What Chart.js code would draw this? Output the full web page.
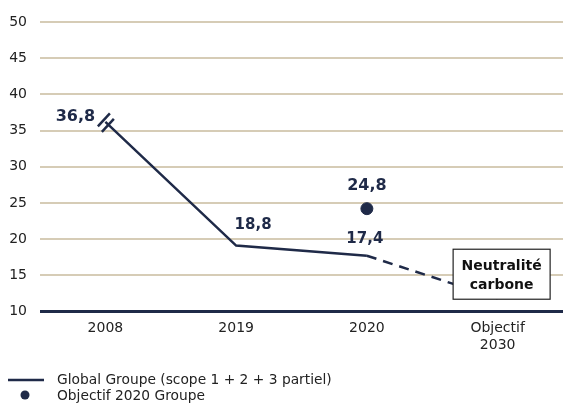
<!DOCTYPE html>
<html>
<head>
<meta charset="utf-8">
<script src="https://cdn.jsdelivr.net/npm/chart.js@4"></script>
<style>
html,body{margin:0;padding:0;background:#fff;}
#wrap{width:563px;height:408px;position:relative;}
</style>
</head>
<body>
<div id="wrap"><canvas id="c" width="563" height="408"></canvas></div>
<script>
// ---- data ----
const categories = ['2008', '2019', '2020', ['Objectif', '2030']];
const globalGroupe = [36.2, 19.1, 17.7, null];          // solid line (axis broken at 2008)
const globalProjection = [null, null, 17.7, 11.8];      // dashed projection to 2030
const objectif2020 = [null, null, 24.2, null];          // target point
const lineLabels = ['36,8', '18,8', '17,4', null];
const pointLabels = [null, null, '24,8', null];
const yTicks = [10, 15, 20, 25, 30, 35, 40, 45, 50];
const boxText = ['Neutralité', 'carbone'];
const boxValue = 15;
const legendItems = ['Global Groupe (scope 1 + 2 + 3 partiel)', 'Objectif 2020 Groupe'];

const NAVY = '#1f2a48';
const GRID = '#d6ccb6';
const FONT = "'DejaVu Sans', sans-serif";

const annotPlugin = {
  id: 'annot',
  afterDatasetsDraw(chart) {
    const ctx = chart.ctx;
    const xs = chart.scales.x, ys = chart.scales.y;
    ctx.save();
    // axis break marks ("//") straddling the first point
    const p0 = chart.getDatasetMeta(0).data[0];
    ctx.strokeStyle = NAVY; ctx.lineWidth = 2.5; ctx.lineCap = 'butt';
    const centers = [[-1.5, -2], [2.5, 3.5]];
    centers.forEach(([dx, dy]) => {
      const cx = p0.x + dx, cy = p0.y + dy;
      ctx.beginPath();
      ctx.moveTo(cx - 6, cy + 6.5);
      ctx.lineTo(cx + 6, cy - 6.5);
      ctx.stroke();
    });
    // line labels
    ctx.fillStyle = NAVY;
    ctx.textAlign = 'center'; ctx.textBaseline = 'middle';
    const offs = [[-30, -5], [17, -20], [-2, -17]];
    const meta0 = chart.getDatasetMeta(0);
    lineLabels.forEach((t, i) => {
      if (!t) return;
      const p = meta0.data[i];
      ctx.font = (i === 0 ? '700 16px ' : '700 15px ') + FONT;
      ctx.fillText(t, p.x + offs[i][0], p.y + offs[i][1]);
    });
    const meta2 = chart.getDatasetMeta(2);
    pointLabels.forEach((t, i) => {
      if (!t) return;
      const p = meta2.data[i];
      ctx.font = '700 16px ' + FONT;
      ctx.fillText(t, p.x, p.y - 23);
    });
    // box
    const bx = xs.getPixelForValue(3) + 4, by = ys.getPixelForValue(boxValue);
    const w = 97, h = 50;
    ctx.fillStyle = '#fff';
    ctx.fillRect(bx - w / 2, by - h / 2 - 1, w, h);
    ctx.strokeStyle = '#222'; ctx.lineWidth = 1.2;
    ctx.strokeRect(bx - w / 2, by - h / 2 - 1, w, h);
    ctx.fillStyle = '#111';
    ctx.font = '700 14px ' + FONT;
    ctx.fillText(boxText[0], bx, by - 9);
    ctx.fillText(boxText[1], bx, by + 10);
    // legend
    ctx.textAlign = 'left';
    ctx.font = '400 13.8px ' + FONT;
    ctx.fillStyle = '#222';
    ctx.strokeStyle = NAVY; ctx.lineWidth = 2.5;
    ctx.beginPath(); ctx.moveTo(8, 380); ctx.lineTo(44, 380); ctx.stroke();
    ctx.fillText(legendItems[0], 57, 380);
    ctx.fillStyle = NAVY;
    ctx.beginPath(); ctx.arc(25, 395, 4.5, 0, Math.PI * 2); ctx.fill();
    ctx.fillStyle = '#222';
    ctx.fillText(legendItems[1], 57, 396);
    ctx.restore();
  }
};

new Chart(document.getElementById('c'), {
  type: 'line',
  data: {
    labels: categories,
    datasets: [
      { data: globalGroupe, borderColor: NAVY, borderWidth: 2.5, pointRadius: 0, spanGaps: false },
      { data: globalProjection, borderColor: NAVY, borderWidth: 2.5, borderDash: [10, 7], pointRadius: 0 },
      { data: objectif2020, showLine: false, pointRadius: 6, pointBackgroundColor: NAVY, pointBorderColor: NAVY, borderColor: NAVY }
    ]
  },
  options: {
    responsive: false,
    animation: false,
    layout: { autoPadding: false, padding: { left: 8, right: 0, top: 22, bottom: 45 } },
    plugins: { legend: { display: false }, tooltip: { enabled: false } },
    scales: {
      x: {
        offset: true,
        grid: { display: false, drawTicks: false },
        border: { display: false },
        ticks: { color: '#222', font: { family: FONT, size: 14 }, padding: 9 },
        afterFit(s) { s.paddingLeft = 0; s.paddingRight = 0; }
      },
      y: {
        min: 10, max: 50,
        afterBuildTicks(s) { s.ticks = yTicks.map(v => ({ value: v })); },
        border: { display: false },
        grid: {
          drawTicks: false,
          color: c => c.tick && c.tick.value === 10 ? NAVY : GRID,
          lineWidth: c => c.tick && c.tick.value === 10 ? 3 : 2
        },
        ticks: { color: '#222', font: { family: FONT, size: 14 }, padding: 13 },
        afterFit(s) { s.width = 32; }
      }
    }
  },
  plugins: [annotPlugin]
});
</script>
</body>
</html>
